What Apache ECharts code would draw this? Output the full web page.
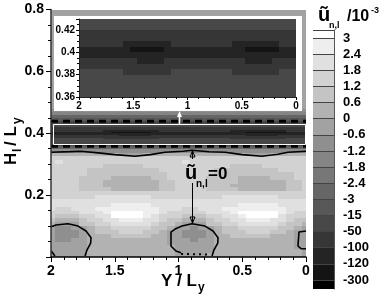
<!DOCTYPE html>
<html><head><meta charset="utf-8">
<style>html,body{margin:0;padding:0;background:#fff}#c{width:382px;height:297px}</style>
<script src="https://cdn.jsdelivr.net/npm/echarts@6/dist/echarts.min.js"></script>
</head><body><div id="c"></div>
<script>
// band representative values (u / 10^-3)
const A=-0.9,B=-0.3,C=0.3,D=0.9,E=1.5,F=2.1,G=2.7,H=3.3;
const V=-8,W=-30,X=-75,Y=-110,Z=-200;
const levelLabels=['3','2.4','1.8','1.2','0.6','0','-0.6','-1.2','-1.8','-2.4','-3','-15','-50','-100','-120','-300'];
const levelValues=[3,2.4,1.8,1.2,0.6,0,-0.6,-1.2,-1.8,-2.4,-3,-15,-50,-100,-120,-300];
const levelColors=['#ffffff','#eeeeee','#e0e0e0','#d2d2d2','#c4c4c4','#b2b2b2','#a2a2a2','#8f8f8f','#858585','#777777','#666666','#585858','#484848','#363636','#242424','#141414','#000000'];
const xColumns=[2,1.9375,1.875,1.8125,1.75,1.6875,1.625,1.5625,1.5,1.4375,1.375,1.3125,1.25,1.1875,1.125,1.0625,1,0.9375,0.875,0.8125,0.75,0.6875,0.625,0.5625,0.5,0.4375,0.375,0.3125,0.25,0.1875,0.125,0.0625,0];
// lower field, bottom row first
const lowerEdges=[0,0.0125,0.025,0.0375,0.05,0.0625,0.075,0.0875,0.1,0.1125,0.125,0.1375,0.15,0.1625,0.175,0.1875,0.2,0.2125,0.225,0.2375,0.25,0.2625,0.275,0.2875,0.3,0.3125,0.325,0.3375,0.35];
const lowerRows=[
[B,B,B,B,B,C,C,C,C,C,C,C,C,C,C,C,B,B,B,B,C,C,C,C,C,C,C,C,C,C,C,C,B],
[B,B,B,B,B,C,C,C,C,C,C,C,C,C,C,C,B,B,B,B,B,C,C,C,C,C,C,C,C,C,C,C,B],
[B,B,B,B,B,C,C,C,C,C,C,C,C,C,C,C,B,B,B,B,B,C,C,C,C,C,C,C,C,C,C,B,B],
[B,B,B,B,B,C,C,C,C,C,C,C,C,C,C,B,B,B,B,B,B,C,C,C,C,C,C,C,C,C,C,B,B],
[B,A,A,B,B,C,C,C,C,C,C,C,C,C,C,B,B,B,A,B,B,C,C,C,C,C,C,C,C,C,C,B,B],
[B,A,A,A,B,C,C,C,D,D,D,D,D,C,C,B,B,A,A,A,B,C,C,D,D,D,D,D,C,C,C,B,B],
[B,A,A,A,B,C,D,D,D,E,E,E,D,D,C,B,B,A,A,A,B,C,D,D,D,E,E,E,D,D,C,B,B],
[B,A,A,B,B,C,D,D,E,E,E,E,E,D,D,C,B,B,A,B,B,C,D,D,E,E,E,E,E,D,D,C,B],
[C,B,B,B,D,D,E,E,F,F,F,F,F,E,D,D,C,B,B,B,D,D,E,E,F,F,F,F,F,E,D,D,C],
[D,C,C,C,D,E,E,F,F,G,G,G,F,F,E,D,D,C,C,C,D,E,E,F,F,G,G,G,F,F,E,D,D],
[E,D,D,D,E,E,F,F,H,H,H,H,G,F,E,E,E,D,D,D,E,E,F,F,G,H,H,H,H,F,E,E,E],
[E,E,E,E,F,F,F,G,H,H,H,H,G,G,F,E,E,E,E,E,F,F,F,G,H,H,H,H,H,G,F,E,E],
[F,E,E,F,F,F,G,G,G,G,G,G,G,G,F,F,F,E,E,F,F,F,G,G,G,G,G,G,G,G,F,F,F],
[F,F,F,F,F,F,F,F,G,G,G,G,G,F,F,F,F,F,F,F,F,F,F,F,G,G,G,G,G,F,F,F,F],
[F,F,F,F,F,F,F,F,F,F,F,F,F,F,F,F,F,F,F,F,F,F,F,F,F,F,F,F,F,F,F,F,F],
[E,E,E,E,E,E,F,F,F,F,F,F,F,E,E,E,E,E,E,E,E,E,F,F,F,F,F,F,F,E,E,E,E],
[E,E,E,E,E,E,E,E,E,E,E,E,E,E,E,E,E,E,E,E,E,E,E,E,E,E,E,E,E,E,E,E,E],
[E,E,E,E,D,D,D,D,C,C,C,C,C,C,D,D,E,E,E,E,D,D,D,D,C,C,C,C,C,C,D,D,E],
[E,E,E,E,D,D,D,C,C,C,C,C,C,C,D,D,E,E,E,E,D,D,D,C,C,C,C,C,C,C,D,D,E],
[E,E,E,E,D,D,D,C,C,C,C,C,C,C,D,D,E,E,E,E,D,D,D,D,C,C,C,C,C,C,D,D,E],
[E,E,E,E,D,D,D,D,C,C,C,C,C,D,D,E,E,E,E,E,D,D,D,D,C,C,C,C,D,D,D,E,E],
[E,E,E,E,E,D,D,D,D,D,D,D,D,D,D,E,E,E,E,E,E,D,D,D,D,D,D,D,D,D,D,E,E],
[E,E,E,E,E,D,D,D,D,D,D,D,D,D,E,E,E,E,E,E,E,D,D,D,D,D,D,D,D,E,E,E,E],
[E,E,E,E,E,E,E,D,D,D,D,D,E,E,E,E,E,E,E,E,E,E,E,D,D,D,D,E,E,E,E,E,E],
[E,F,E,E,E,E,E,E,E,E,E,E,E,E,E,E,E,F,E,E,E,E,E,E,E,E,E,E,E,E,E,E,E],
[E,E,E,E,E,E,E,E,E,E,E,E,E,E,E,E,E,E,E,E,E,E,E,E,E,E,E,E,E,E,E,E,E],
[C,C,C,C,C,C,C,C,C,B,B,B,C,C,C,C,C,C,C,C,C,C,C,C,C,B,B,B,C,C,C,C,C],
[A,A,A,A,A,A,A,A,A,A,A,A,A,A,A,A,A,A,A,A,A,A,A,A,A,A,A,A,A,A,A,A,A]
];
// strip around the peak, also drawn in the inset, bottom row first
const insetEdges=[0.36,0.365,0.37,0.375,0.38,0.385,0.39,0.395,0.4,0.405,0.41,0.415,0.42,0.425,0.43];
const insetRows=[
[W,W,W,W,W,W,W,W,W,W,W,W,W,W,W,W,W,W,W,W,W,W,W,W,W,W,W,W,W,W,W,W,W],
[W,W,W,W,W,W,W,W,W,W,W,W,W,W,W,W,W,W,W,W,W,W,W,W,W,W,W,W,W,W,W,W,W],
[W,W,W,W,W,W,W,W,W,W,W,W,W,W,W,W,W,W,W,W,W,W,W,W,W,W,W,W,W,W,W,W,W],
[W,W,W,W,W,W,W,W,W,W,W,W,W,W,W,W,W,W,W,W,W,W,W,W,W,W,W,W,W,W,W,W,W],
[W,W,W,W,W,W,W,X,X,X,X,X,X,X,W,W,W,W,W,W,W,W,W,X,X,X,X,X,X,X,W,W,W],
[X,X,X,X,X,X,X,X,X,X,X,X,X,X,X,X,X,X,X,X,X,X,X,X,X,X,X,X,X,X,X,X,X],
[X,X,X,X,X,X,X,X,X,Y,Y,Y,Y,X,X,X,X,X,X,X,X,X,X,X,X,Y,Y,Y,Y,X,X,X,X],
[Y,Y,Y,Y,Y,Y,Y,Y,Y,Y,Y,Y,Y,Y,Y,Y,Y,Y,Y,Y,Y,Y,Y,Y,Y,Y,Y,Y,Y,Y,Y,Y,Y],
[Y,Y,Y,Y,Y,Y,Y,Y,Z,Z,Z,Z,Z,Y,Y,Y,Y,Y,Y,Y,Y,Y,Y,Y,Y,Z,Z,Z,Z,Z,Y,Y,Y],
[X,X,X,X,X,X,X,Y,Y,Y,Y,Y,Y,Y,X,X,X,X,X,X,X,X,X,Y,Y,Y,Y,Y,Y,Y,X,X,X],
[X,X,X,X,X,X,X,X,X,X,X,X,X,X,X,X,X,X,X,X,X,X,X,X,X,X,X,X,X,X,X,X,X],
[X,X,X,X,X,X,X,X,X,X,X,X,X,X,X,X,X,X,X,X,X,X,X,X,X,X,X,X,X,X,X,X,X],
[W,W,W,W,W,W,W,W,W,W,W,W,W,W,W,W,W,W,W,W,W,W,W,W,W,W,W,W,W,W,W,W,W],
[W,W,W,W,W,W,W,W,W,W,W,W,W,W,W,W,W,W,W,W,W,W,W,W,W,W,W,W,W,W,W,W,W]
];
// x-uniform layers: [yLow, yHigh, u]
const uniformLayers=[[0.35,0.355,-2.7],[0.355,0.36,V],[0.43,0.44,W],[0.44,0.45,V],[0.45,0.46,-2.7],[0.46,0.47,-1.5],[0.47,0.48,A],[0.48,0.8,B]];
// zero contour
const contourTop=[[2,0.3387],[1.85,0.3405],[1.765,0.3419],[1.631,0.3365],[1.5,0.331],[1.341,0.3258],[1.22,0.331],[1.106,0.3387],[0.965,0.3419],[0.894,0.3452],[0.76,0.34],[0.635,0.3387],[0.5,0.331],[0.345,0.3258],[0.22,0.332],[0.141,0.3387],[0,0.3419]];
const contourLeft=[[2,0.0977],[1.961,0.1032],[1.867,0.1074],[1.788,0.1],[1.725,0.0839],[1.686,0.0623],[1.689,0.0452],[1.718,0.0226],[1.733,0.0032]];
const contourCorner=[[1.998,0.0194],[1.969,0.0032]];
const contourMiddle=[[0.98,0.0139],[1.02,0.0194],[1.059,0.0355],[1.059,0.0806],[1.027,0.0903],[0.973,0.1],[0.894,0.1074],[0.792,0.1],[0.729,0.0839],[0.69,0.0623],[0.692,0.0452],[0.722,0.0226],[0.737,0.0032]];
const contourRight=[[0,0.0839],[0.055,0.0806],[0.063,0.0355],[0.039,0.0268],[0,0.0268]];
const contourDots=[[0.98,0.01],[0.75,0.008]];
const dashLow=[[2,0.358],[0,0.358]];
const dashHigh=[[2,0.4387],[0,0.4387]];

const FONT='"Liberation Sans",Arial,sans-serif';
function colorOf(u){for(let i=0;i<levelValues.length;i++){if(u>levelValues[i])return levelColors[i];}return levelColors[levelColors.length-1];}
function cells(rows,edges){const out=[];rows.forEach((r,i)=>r.forEach((u,j)=>{
  const step=0.03125;out.push([xColumns[j]+step,xColumns[j]-step,edges[i],edges[i+1],u]);}));return out;}
const mainCells=cells(lowerRows,lowerEdges).concat(cells(insetRows,insetEdges));
uniformLayers.forEach(l=>mainCells.push([2,0,l[0],l[1],l[2]]));
const insetCells=cells(insetRows,insetEdges);
function renderCell(p,api){
  const a=api.coord([api.value(0),api.value(2)]),b=api.coord([api.value(1),api.value(3)]);
  const x=Math.round(Math.min(a[0],b[0])),y=Math.round(Math.min(a[1],b[1]));
  const w=Math.round(Math.max(a[0],b[0]))-x,h=Math.round(Math.max(a[1],b[1]))-y;
  return {type:'rect',shape:{x,y,width:w,height:h},style:{fill:colorOf(api.value(4)),stroke:null}};
}
// colour bar
const barEdges=[-0.5,0,1,2,3,4,5,6,7,8,9,10,11,12,13,14,15,15.56];
const barCells=levelColors.map((c,i)=>[barEdges[i],barEdges[i+1],i]);
function renderBar(p,api){
  const a=api.coord([0,api.value(0)]),b=api.coord([1,api.value(1)]);
  const y=Math.round(a[1]);
  return {type:'rect',shape:{x:a[0],y,width:b[0]-a[0],height:Math.round(b[1])-y},style:{fill:levelColors[api.value(2)]}};
}
function lineS(data,w,dash,z){return {type:'line',xAxisIndex:0,yAxisIndex:0,data,showSymbol:false,symbol:'none',silent:true,z:z||2,clip:true,
  lineStyle:{color:'#000',width:w,type:dash||'solid'},animation:false};}
const tk=(c,l,w)=>({show:true,length:l,lineStyle:{color:c,width:w||1}});
const chart=echarts.init(document.getElementById('c'),null,{renderer:'canvas'});
chart.setOption({
  animation:false,backgroundColor:'#fff',
  grid:[{left:51,width:255,top:9.5,height:247.5},{left:79,width:217,top:19,height:78},{left:313,width:21,top:30,height:259}],
  xAxis:[
   {type:'value',gridIndex:0,min:0,max:2,interval:0.5,inverse:true,z:6,splitLine:{show:false},
    axisLine:{onZero:false,lineStyle:{color:'#000',width:1.5}},axisTick:tk('#000',5,1),minorTick:{show:true,splitNumber:5,length:3,lineStyle:{color:'#000'}},
    axisLabel:{color:'#000',fontFamily:FONT,fontWeight:'bold',fontSize:14,margin:7}},
   {type:'value',gridIndex:1,min:0,max:2,interval:0.5,inverse:true,z:6,splitLine:{show:false},
    axisLine:{onZero:false,lineStyle:{color:'#222',width:1}},axisTick:tk('#000',3,1),minorTick:{show:true,splitNumber:5,length:2,lineStyle:{color:'#000'}},
    axisLabel:{color:'#000',fontFamily:FONT,fontWeight:'bold',fontSize:10,margin:4}},
   {type:'value',gridIndex:2,min:0,max:1,show:false}
  ],
  yAxis:[
   {type:'value',gridIndex:0,min:0,max:0.8,interval:0.2,z:6,splitLine:{show:false},
    axisLine:{show:true,onZero:false,lineStyle:{color:'#333',width:1.5}},axisTick:tk('#000',5,1),minorTick:{show:true,splitNumber:4,length:3,lineStyle:{color:'#000'}},
    axisLabel:{color:'#000',fontFamily:FONT,fontWeight:'bold',fontSize:14,margin:7,showMinLabel:false}},
   {type:'value',gridIndex:1,min:0.36,max:0.43,interval:0.02,z:6,splitLine:{show:false},
    axisLine:{show:true,onZero:false,lineStyle:{color:'#222',width:1}},axisTick:tk('#000',3,1),minorTick:{show:true,splitNumber:4,length:2,lineStyle:{color:'#000'}},
    axisLabel:{color:'#000',fontFamily:FONT,fontWeight:'bold',fontSize:10,margin:4,showMaxLabel:false}},
   {type:'value',gridIndex:2,min:-0.5,max:15.56,inverse:true,position:'right',z:6,splitLine:{show:false},
    axisLine:{show:true,onZero:false,lineStyle:{color:'#555',width:1}},
    axisTick:{show:true,inside:true,length:21,lineStyle:{color:'#444',width:1},customValues:[-0.5,0,1,2,3,4,5,6,7,8,9,10,11,12,13,14,15]},
    axisLabel:{color:'#000',fontFamily:FONT,fontWeight:'bold',fontSize:13,margin:9,padding:[6,0,0,0],
      customValues:levelLabels.map((_,i)=>i),formatter:v=>levelLabels[Math.round(v)]}}
  ],
  series:[
   {type:'custom',xAxisIndex:0,yAxisIndex:0,data:mainCells,renderItem:renderCell,clip:true,z:1,silent:true},
   lineS(contourTop,1.6),lineS(contourLeft,1.6),lineS(contourCorner,1.6),lineS(contourMiddle,1.6),lineS(contourRight,1.6),
   lineS(contourDots,2,[2,4]),
   lineS(dashLow,3,[7,5]),lineS(dashHigh,3,[7,5]),
   {type:'custom',xAxisIndex:1,yAxisIndex:1,data:insetCells,renderItem:renderCell,clip:true,z:5,silent:true},
   {type:'custom',xAxisIndex:2,yAxisIndex:2,data:barCells,renderItem:renderBar,clip:true,z:1,silent:true}
  ],
  graphic:{elements:[
   {type:'rect',z:3,shape:{x:54,y:16,width:248,height:95},style:{fill:'#fff'}},
   {type:'rect',z:3,shape:{x:53.5,y:124.5,width:252,height:20},style:{fill:'none',stroke:'#fff',lineWidth:1}},
   {type:'line',z:4,shape:{x1:179.5,y1:124,x2:179.5,y2:115},style:{stroke:'#fff',lineWidth:1.5}},
   {type:'polygon',z:4,shape:{points:[[179.5,111],[177,117],[182,117]]},style:{fill:'#fff'}},
   {type:'line',z:4,shape:{x1:192.5,y1:151,x2:192.5,y2:159},style:{stroke:'#000',lineWidth:1}},
   {type:'line',z:4,shape:{x1:192.5,y1:183,x2:192.5,y2:222},style:{stroke:'#000',lineWidth:1}},
   {type:'polygon',z:4,shape:{points:[[192.5,151],[190,157],[195,157]]},style:{fill:'none',stroke:'#000',lineWidth:1}},
   {type:'polygon',z:4,shape:{points:[[192.5,223],[190,217],[195,217]]},style:{fill:'none',stroke:'#000',lineWidth:1}},
   // annotation
   {type:'text',z:4,style:{text:'ũ',x:185,y:183,textVerticalAlign:'bottom',font:'bold 20px '+FONT,fill:'#000'}},
   {type:'text',z:4,style:{text:'n,l',x:196,y:189,textVerticalAlign:'bottom',font:'bold 10px '+FONT,fill:'#000'}},
   {type:'text',z:4,style:{text:'=0',x:208,y:183,textVerticalAlign:'bottom',font:'bold 17px '+FONT,fill:'#000'}},
   // colour bar title
   {type:'text',z:4,style:{text:'ũ',x:318,y:25,textVerticalAlign:'bottom',font:'bold 20px '+FONT,fill:'#000'}},
   {type:'text',z:4,style:{text:'n,l',x:329,y:30,textVerticalAlign:'bottom',font:'bold 9px '+FONT,fill:'#000'}},
   {type:'text',z:4,style:{text:'/10',x:347,y:25,textVerticalAlign:'bottom',font:'bold 16px '+FONT,fill:'#000'}},
   {type:'text',z:4,style:{text:'-3',x:371,y:15,textVerticalAlign:'bottom',font:'bold 9px '+FONT,fill:'#000'}},
   // axis titles
   {type:'text',z:4,style:{text:'Y / L',x:161,y:290,textVerticalAlign:'bottom',font:'bold 17px '+FONT,fill:'#000'}},
   {type:'text',z:4,style:{text:'y',x:198,y:294,textVerticalAlign:'bottom',font:'bold 12px '+FONT,fill:'#000'}},
   {type:'text',z:4,rotation:Math.PI/2,x:20,y:165,style:{text:'H',x:0,y:0,textVerticalAlign:'bottom',font:'bold 17px '+FONT,fill:'#000'}},
   {type:'text',z:4,rotation:Math.PI/2,x:24,y:152,style:{text:'l',x:0,y:0,textVerticalAlign:'bottom',font:'bold 12px '+FONT,fill:'#000'}},
   {type:'text',z:4,rotation:Math.PI/2,x:20,y:146,style:{text:'/ L',x:0,y:0,textVerticalAlign:'bottom',font:'bold 17px '+FONT,fill:'#000'}},
   {type:'text',z:4,rotation:Math.PI/2,x:24,y:124,style:{text:'y',x:0,y:0,textVerticalAlign:'bottom',font:'bold 12px '+FONT,fill:'#000'}}
  ]}
});
</script></body></html>
